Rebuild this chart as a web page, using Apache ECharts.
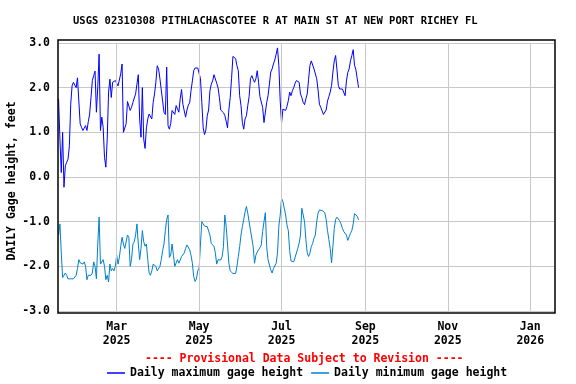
<!DOCTYPE html>
<html>
<head>
<meta charset="utf-8">
<script src="https://cdn.jsdelivr.net/npm/echarts@6/dist/echarts.min.js"></script>
<style>html,body{margin:0;padding:0;background:#fff;}#c{width:576px;height:384px;}</style>
</head>
<body>
<div id="c"></div>
<script>
// ---- data ----
const startDate = '2025-01-17';
const maxHeight = [
 1.75,0.85,0.1,1.0,-0.23,0.25,0.33,0.4,0.7,1.63,
 2.04,2.12,2.1,2.0,2.22,1.7,1.19,1.11,1.04,1.07,
 1.15,1.04,1.24,1.41,1.78,2.16,2.27,2.37,1.45,2.0,
 2.75,1.04,1.34,1.11,0.44,0.22,0.85,1.9,2.19,1.78,
 2.12,2.12,2.16,2.19,2.04,2.0,2.31,2.53,1.0,0.98,
 1.19,1.69,1.67,1.49,1.56,1.67,1.71,1.86,2.08,2.29,
 1.3,0.89,2.0,0.85,0.64,1.1,1.3,1.41,1.43,1.3,
 1.67,1.86,2.12,2.49,2.42,2.2,1.95,1.7,1.45,1.4,
 2.46,1.15,1.07,1.2,1.49,1.45,1.4,1.6,1.63,1.45,
 1.75,1.96,1.63,1.48,1.34,1.5,1.61,1.66,1.93,2.15,
 2.38,2.44,2.42,2.44,2.4,2.2,1.67,1.1,0.95,1.05,
 1.37,1.5,1.93,2.08,2.15,2.29,2.33,2.1,2.0,1.78,
 1.5,1.46,1.44,1.38,1.25,1.1,1.5,1.78,2.2,2.7,
 2.72,2.65,2.49,2.38,1.82,1.6,1.22,1.07,1.3,1.37,
 1.6,1.8,2.2,2.27,2.19,2.12,2.2,2.38,2.12,1.8,
 1.78,1.56,1.22,1.25,1.67,1.82,2.08,2.35,2.42,2.53,
 2.62,2.75,2.89,2.5,1.7,1.21,1.52,1.56,1.49,1.58,
 1.71,1.9,1.82,1.93,2.0,2.1,2.16,2.15,2.12,1.86,
 1.78,1.67,1.62,1.75,1.86,2.19,2.5,2.6,2.6,2.42,
 2.46,2.2,1.95,1.63,1.56,1.48,1.4,1.38,1.5,1.7,
 1.8,1.9,2.05,2.35,2.6,2.72,2.4,2.05,1.97,2.0,
 1.97,1.93,1.82,2.15,2.34,2.42,2.6,2.72,2.85,2.5,
 2.4,2.2,2.0
];
const minHeight = [
 -1.3,-1.05,-1.7,-2.25,-2.28,-2.15,-2.2,-2.28,-2.28,-2.28,
 -2.28,-2.28,-2.3,-2.2,-2.05,-1.85,-1.92,-1.92,-1.95,-1.9,
 -2.0,-2.3,-2.2,-2.2,-2.2,-2.15,-1.9,-2.0,-2.28,-1.5,
 -0.9,-1.95,-1.95,-1.85,-2.0,-2.3,-2.2,-2.35,-1.95,-2.1,
 -2.05,-2.1,-2.0,-1.75,-1.95,-1.8,-1.55,-1.35,-1.5,-1.6,
 -1.6,-1.3,-1.35,-2.0,-1.85,-1.5,-1.45,-1.3,-1.05,-1.5,
 -1.85,-1.6,-1.2,-1.45,-1.55,-1.5,-1.85,-2.15,-2.2,-2.1,
 -1.95,-1.95,-2.0,-2.1,-2.1,-2.0,-1.85,-1.65,-1.5,-1.2,
 -0.95,-0.85,-1.8,-1.75,-1.5,-1.75,-2.0,-2.0,-1.85,-1.93,
 -1.86,-1.78,-1.8,-1.7,-1.6,-1.52,-1.55,-1.63,-1.75,-1.93,
 -2.23,-2.34,-2.28,-2.1,-2.04,-1.5,-1.0,-1.05,-1.1,-1.1,
 -1.11,-1.15,-1.3,-1.49,-1.52,-1.55,-1.7,-1.95,-1.85,-1.82,
 -1.86,-1.78,-1.56,-0.85,-1.1,-1.5,-1.93,-2.1,-2.12,-2.16,
 -2.16,-2.16,-2.0,-1.78,-1.56,-1.3,-1.11,-0.95,-0.78,-0.66,
 -0.81,-1.0,-1.19,-1.37,-1.56,-1.93,-1.75,-1.68,-1.63,-1.58,
 -1.52,-1.22,-1.0,-0.8,-1.56,-1.85,-1.97,-2.08,-2.15,-2.05,
 -2.05,-1.93,-1.7,-1.1,-0.85,-0.48,-0.55,-0.7,-0.85,-1.07,
 -1.2,-1.65,-1.88,-1.92,-1.9,-1.93,-1.7,-1.6,-1.48,-1.3,
 -0.7,-0.66,-1.0,-1.4,-1.7,-1.78,-1.7,-1.56,-1.49,-1.37,
 -1.3,-1.0,-0.81,-0.74,-0.74,-0.75,-0.74,-0.8,-0.95,-1.2,
 -1.4,-1.6,-1.92,-1.55,-1.15,-0.95,-0.9,-0.9,-0.98,-1.05,
 -1.15,-1.22,-1.22,-1.3,-1.42,-1.34,-1.26,-1.2,-1.05,-0.82,
 -0.8,-0.88,-0.96
];
const tickDates = ['2025-03-01','2025-05-01','2025-07-01','2025-09-01','2025-11-01','2026-01-01'];
const tickMonths = ['Mar','May','Jul','Sep','Nov','Jan'];
const tickYears = ['2025','2025','2025','2025','2025','2026'];
const seriesNames = ['Daily maximum gage height','Daily minimum gage height'];
const titleText = 'USGS 02310308 PITHLACHASCOTEE R AT MAIN ST AT NEW PORT RICHEY FL';
const noteText = '---- Provisional Data Subject to Revision ----';
const yName = 'DAILY Gage height, feet';

// ---- build ----
const DAY = 86400000;
const t0 = Date.parse(startDate + 'T00:00:00Z');
const toPairs = arr => arr.map((v, i) => [t0 + i * DAY, v]);
const tickTs = tickDates.map(d => Date.parse(d + 'T00:00:00Z'));
const xMin = Date.parse('2025-01-16T14:00:00Z');
const xMax = Date.parse('2026-01-18T14:00:00Z');
const FONT = 'DejaVu Sans Mono';
const TXT = {fontFamily: FONT, fontSize: 11.5, fontWeight: 'bold', color: '#000'};

const chart = echarts.init(document.getElementById('c'), null, {renderer: 'canvas'});
chart.setOption({
  animation: false,
  backgroundColor: '#fff',
  title: [
    {text: titleText, left: 73, top: 16, padding: 0,
     textStyle: {fontFamily: FONT, fontSize: 10.5, fontWeight: 'bold', color: '#000'}},
    {text: noteText, left: 145, top: 353, padding: 0,
     textStyle: Object.assign({}, TXT, {color: '#ff0000'})}
  ],
  legend: {
    left: 107, top: 367, padding: 0, icon: 'rect', itemWidth: 18, itemHeight: 1.5, itemGap: 8,
    textStyle: TXT, data: seriesNames
  },
  grid: {left: 58, width: 496, top: 43, height: 268, containLabel: false, outerBoundsMode: 'none'},
  xAxis: {
    type: 'value', min: xMin, max: xMax,
    axisLine: {show: false}, axisTick: {show: false},
    splitLine: {show: false},
    axisLabel: Object.assign({
      customValues: tickTs, margin: 9, lineHeight: 14,
      formatter: function (v) {
        const i = tickTs.indexOf(v);
        return i >= 0 ? tickMonths[i] + '\n' + tickYears[i] : '';
      }
    }, TXT)
  },
  yAxis: {
    type: 'value', min: -3, max: 3, interval: 1,
    axisLine: {show: false}, axisTick: {show: false},
    splitLine: {show: true, lineStyle: {color: '#c8c8c8', width: 1}},
    axisLabel: Object.assign({margin: 8, formatter: v => v.toFixed(1)}, TXT)
  },
  graphic: [
    {type: 'rect', z: 100, silent: true,
     shape: {x: 58, y: 40, width: 497, height: 273},
     style: {fill: null, stroke: '#000', lineWidth: 1.5}},
    {type: 'text', silent: true, x: 12, y: 181, rotation: Math.PI / 2,
     style: {text: yName, font: 'bold 11.5px "DejaVu Sans Mono"', fill: '#000',
             align: 'center', verticalAlign: 'middle'}}
  ],
  series: [
    {name: 'grid', type: 'line', data: [], z: 0, silent: true,
     markLine: {silent: true, symbol: 'none', label: {show: false},
       lineStyle: {color: '#c8c8c8', width: 1, type: 'solid'},
       data: tickTs.map(t => ({xAxis: t}))}},
    {name: seriesNames[0], type: 'line', data: toPairs(maxHeight), showSymbol: false,
     lineStyle: {color: '#0000ff', width: 1}, itemStyle: {color: '#0000ff'}, z: 3},
    {name: seriesNames[1], type: 'line', data: toPairs(minHeight), showSymbol: false,
     lineStyle: {color: '#0080d0', width: 1}, itemStyle: {color: '#0080d0'}, z: 3}
  ]
});
</script>
</body>
</html>
